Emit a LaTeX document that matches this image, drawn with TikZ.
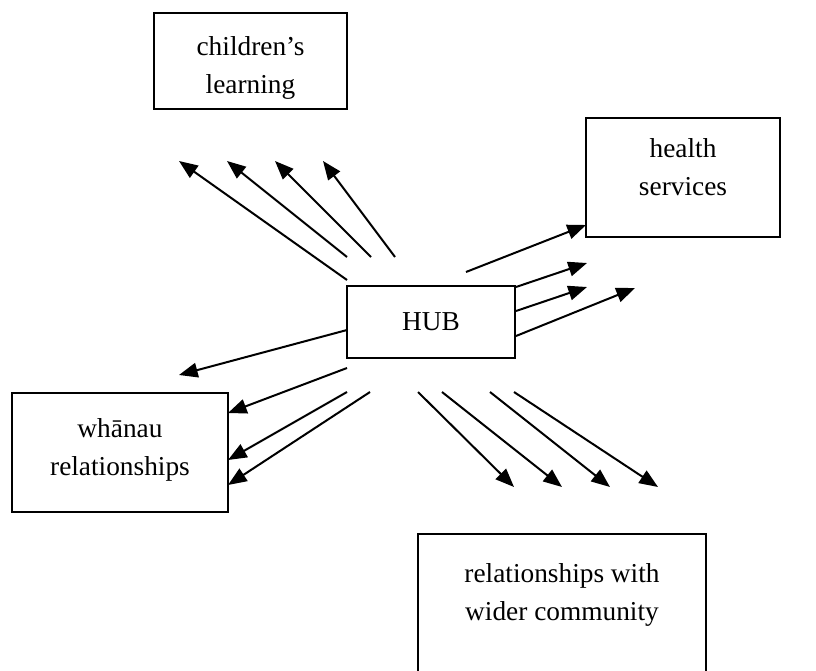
\documentclass[tikz,border=0pt]{standalone}
\usepackage{fontspec}
\setmainfont{Liberation Serif}
\usetikzlibrary{arrows.meta}

\tikzset{every picture/.style={line width=1.5pt}}
\tikzset{
  box/.style={draw, rectangle, inner sep=0pt},
  lbl/.style={align=center, inner sep=0pt, font=\fontsize{20.5}{29}\selectfont},
  arr/.style={-{Triangle[length=14pt,width=11pt]}}
}

\begin{document}
\begin{tikzpicture}[x=0.75pt,y=0.75pt,yscale=-1,xscale=1]
\useasboundingbox (0,0) rectangle (816,670);

%Shape: Rectangle [children's learning]
\node[box, minimum width=144.75pt, minimum height=72pt] (learn) at (250.5,61) {};
%Shape: Rectangle [health services]
\node[box, minimum width=145.5pt, minimum height=89.25pt] (health) at (683,177.5) {};
%Shape: Rectangle [hub]
\node[box, minimum width=126pt, minimum height=54pt] (hub) at (431,322) {};
%Shape: Rectangle [whanau relationships]
\node[box, minimum width=162pt, minimum height=89.25pt] (whanau) at (120,452.5) {};
%Shape: Rectangle [wider community]
\node[box, minimum width=216pt, minimum height=124.5pt] (wider) at (562,617) {};

% Text Node
\node[lbl] (learntxt) at (250.5,68) {children’s\\learning};
% Text Node
\node[lbl] (healthtxt) at (683,167) {health\\services};
% Text Node
\node[lbl] (hubtxt) at (431,322) {HUB};
% Text Node
\node[lbl] (whanautxt) at (120,450) {whānau\\relationships};
% Text Node
\node[lbl] (widertxt) at (562,595) {relationships with\\wider community};

%Arrows to children's learning
\coordinate (u1s) at (347,280); \coordinate (u1e) at (179,161);
\coordinate (u2s) at (347,257); \coordinate (u2e) at (227,161);
\coordinate (u3s) at (371,257); \coordinate (u3e) at (275,161);
\coordinate (u4s) at (395,257); \coordinate (u4e) at (323,161);
\draw[arr] (u1s) -- (u1e);
\draw[arr] (u2s) -- (u2e);
\draw[arr] (u3s) -- (u3e);
\draw[arr] (u4s) -- (u4e);

%Arrows to health services
\coordinate (r1s) at (466,272); \coordinate (r1e) at (586,225);
\coordinate (r2s) at (516,287); \coordinate (r2e) at (587,263);
\coordinate (r3s) at (516,311); \coordinate (r3e) at (587,287);
\coordinate (r4s) at (516,336); \coordinate (r4e) at (635,288);
\draw[arr] (r1s) -- (r1e);
\draw[arr] (r2s) -- (r2e);
\draw[arr] (r3s) -- (r3e);
\draw[arr] (r4s) -- (r4e);

%Arrows to whanau relationships
\coordinate (l1s) at (347,330); \coordinate (l1e) at (179,375);
\coordinate (l2s) at (347,368); \coordinate (l2e) at (228,413);
\coordinate (l3s) at (347,392); \coordinate (l3e) at (228,460);
\coordinate (l4s) at (370,392); \coordinate (l4e) at (228,485);
\draw[arr] (l1s) -- (l1e);
\draw[arr] (l2s) -- (l2e);
\draw[arr] (l3s) -- (l3e);
\draw[arr] (l4s) -- (l4e);

%Arrows to wider community
\coordinate (d1s) at (418,392); \coordinate (d1e) at (514,487);
\coordinate (d2s) at (442,392); \coordinate (d2e) at (562,487);
\coordinate (d3s) at (490,392); \coordinate (d3e) at (610,487);
\coordinate (d4s) at (514,392); \coordinate (d4e) at (658,487);
\draw[arr] (d1s) -- (d1e);
\draw[arr] (d2s) -- (d2e);
\draw[arr] (d3s) -- (d3e);
\draw[arr] (d4s) -- (d4e);

\end{tikzpicture}
\end{document}
